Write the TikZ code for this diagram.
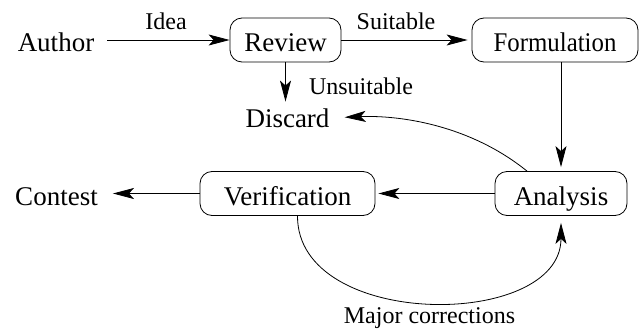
\documentclass[tikz,border=0pt]{standalone}
\usepackage{fontspec}
\setmainfont{Liberation Serif}
\newfontfamily\narrowserif[FakeStretch=0.92]{Liberation Serif}
\usetikzlibrary{arrows.meta}
\tikzset{
  mainfont/.style={font=\fontsize{27}{30}\selectfont},
  lblfont/.style={font=\fontsize{24}{28}\selectfont},
  stagebox/.style={draw, mainfont, rounded corners=12pt, minimum height=44pt,
    text height=23.5pt, text depth=0pt, inner sep=0pt, line width=0.8pt},
  plain/.style={mainfont, anchor=base, inner sep=3pt},
  lbl/.style={lblfont, anchor=base, inner sep=0pt},
  arr/.style={line width=0.8pt, -{Stealth[length=21pt,width=11pt,inset=5pt]}},
}
\begin{document}
\begin{tikzpicture}[x=1pt,y=-1pt]
\useasboundingbox (0,0) rectangle (640,329);
% boxes
\node[stagebox, minimum width=111pt] (Review) at (285.5,40) {Review};
\node[stagebox, minimum width=166pt, font=\narrowserif\fontsize{27}{30}\selectfont] (Formulation) at (555,40) {Formulation};
\node[stagebox, minimum width=132pt] (Analysis) at (561,193.5) {Analysis};
\node[stagebox, minimum width=175pt] (Verification) at (287.5,193.5) {Verification};
% plain texts
\node[plain] (Author) at (56,52) {Author};
\node[plain] (Discard) at (287.5,127) {Discard};
\node[plain] (Contest) at (56.5,205) {Contest};
% labels
\node[lbl] (Idea) at (166,30) {Idea};
\node[lbl] (Suitable) at (396,30) {Suitable};
\node[lbl] (Unsuitable) at (361,95) {Unsuitable};
\node[lbl] (Major) at (429.5,323) {Major corrections};
% connectors
\draw[arr, shorten <=10pt] (Author.east |- Review.west) -- (Review.west);
\draw[arr, shorten >=4pt] (Review.east) -- (Formulation.west);
\draw[arr, shorten >=3.5pt] (Review.south) -- (Review.south |- Discard.north);
\draw[arr, shorten >=4pt] (Analysis.north |- Formulation.south) -- (Analysis.north);
\draw[arr, shorten >=3pt] (Analysis.west) -- (Verification.east);
\draw[arr, shorten >=12pt] (Verification.west) -- (Contest.east |- Verification.west);
\draw[arr, shorten >=12pt] ([xshift=-34pt]Analysis.north) .. controls (470,125) and (400,115) .. (Discard.east);
\draw[arr, shorten >=7pt] ([xshift=10pt]Verification.south) .. controls (297,330) and (561,330) .. (Analysis.south);
\end{tikzpicture}
\end{document}
